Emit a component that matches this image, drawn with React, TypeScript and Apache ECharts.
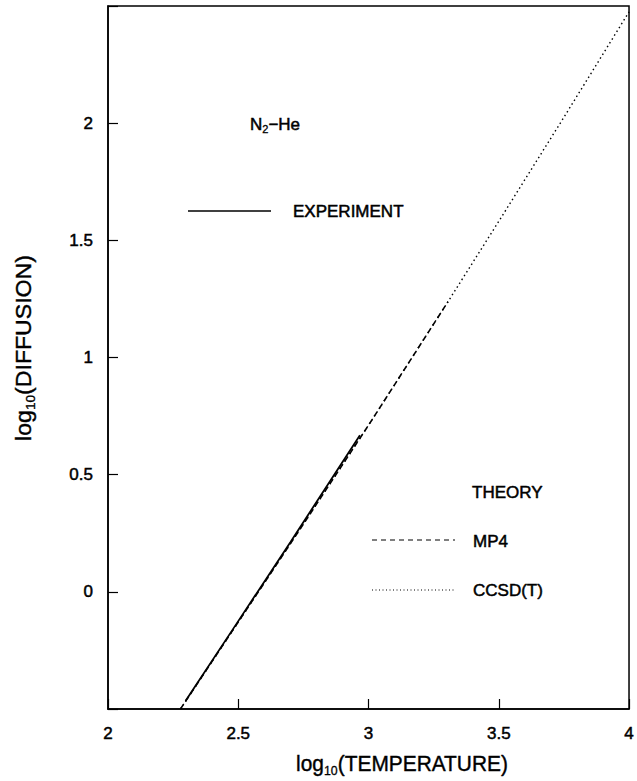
import React, { useEffect, useRef } from "react";
import * as echarts from "echarts";

// log10(T) and log10(D)
const experimentX = [2.298, 2.5, 2.7, 2.967];
const experimentY = [-0.465, -0.125, 0.212, 0.668];
const mp4X = [2.278, 2.5, 2.75, 3.0, 3.305];
const mp4Y = [-0.5, -0.129, 0.289, 0.711, 1.238];
const ccsdX = [2.278, 2.5, 2.75, 3.0, 3.305, 3.5, 3.75, 4.0];
const ccsdY = [-0.5, -0.129, 0.289, 0.711, 1.238, 1.581, 2.025, 2.475];

const xTicks = [2, 2.5, 3, 3.5, 4];
const yTicks = [0, 0.5, 1, 1.5, 2];

const pairs = (xs: number[], ys: number[]) => xs.map((x, i) => [x, ys[i]]);

const FONT = "'Liberation Sans', Arial, sans-serif";
const HEAVY = { textBorderColor: "#000", textBorderWidth: 0.5 };

export default function App() {
  const ref = useRef<HTMLDivElement>(null);
  useEffect(() => {
    if (!ref.current) return;
    const chart = echarts.init(ref.current, null, { renderer: "svg" });
    const lineBase = { type: "line", showSymbol: false, symbol: "none", clip: true };
    const titleRich = {
      a: { fontFamily: FONT, fontSize: 22, fill: "#000", lineHeight: 30, stroke: "#000", lineWidth: 0.4 },
      s: { fontFamily: FONT, fontSize: 13, fill: "#000", lineHeight: 30, padding: [13, 0, 0, 0], stroke: "#000", lineWidth: 0.3 },
    };
    const legendText = (text: string, x: number, y: number) => ({
      type: "text",
      x,
      y,
      style: {
        text,
        fontFamily: FONT,
        fontSize: 17,
        fill: "#000",
        stroke: "#000",
        lineWidth: 0.5,
        align: "left",
        verticalAlign: "middle",
      },
    });
    chart.setOption({
      animation: false,
      backgroundColor: "#fff",
      grid: {
        left: 108,
        right: 2,
        top: 6,
        bottom: 72,
        show: true,
        borderColor: "#000",
        borderWidth: 1.5,
      },
      xAxis: {
        type: "value",
        min: 2,
        max: 4,
        interval: 0.5,
        axisLine: { show: true, onZero: false, lineStyle: { color: "#000", width: 1.5 } },
        axisTick: { show: true, inside: true, length: 10, lineStyle: { color: "#000", width: 1.2 } },
        axisLabel: {
          color: "#000",
          fontFamily: FONT,
          fontSize: 17,
          margin: 16,
          ...HEAVY,
          formatter: (v: number) => (xTicks.includes(v) ? String(v) : ""),
        },
        splitLine: { show: false },
      },
      yAxis: {
        type: "value",
        min: -0.5,
        max: 2.5,
        interval: 0.5,
        axisLine: { show: true, onZero: false, lineStyle: { color: "#000", width: 1.5 } },
        axisTick: { show: true, inside: true, length: 10, lineStyle: { color: "#000", width: 1.2 } },
        axisLabel: {
          color: "#000",
          fontFamily: FONT,
          fontSize: 17,
          margin: 15,
          ...HEAVY,
          formatter: (v: number) => (yTicks.includes(v) ? String(v) : ""),
        },
        splitLine: { show: false },
      },
      series: [
        {
          ...lineBase,
          name: "EXPERIMENT",
          data: pairs(experimentX, experimentY),
          lineStyle: { color: "#000", width: 1.8, type: "solid" },
        },
        {
          ...lineBase,
          name: "MP4",
          data: pairs(mp4X, mp4Y),
          lineStyle: { color: "#000", width: 1.6, type: [5, 4] },
        },
        {
          ...lineBase,
          name: "CCSD(T)",
          data: pairs(ccsdX, ccsdY),
          lineStyle: { color: "#000", width: 1.4, type: [1.5, 3] },
        },
      ],
      graphic: [
        {
          type: "text",
          x: 250,
          y: 124,
          style: {
            text: "{a|N}{s|2}{a|−He}",
            align: "left",
            verticalAlign: "middle",
            rich: {
              a: { fontFamily: FONT, fontSize: 17, fill: "#000", lineHeight: 24, stroke: "#000", lineWidth: 0.5 },
              s: { fontFamily: FONT, fontSize: 11, fill: "#000", lineHeight: 24, padding: [10, 0, 0, 0], stroke: "#000", lineWidth: 0.3 },
            },
          },
        },
        { type: "line", shape: { x1: 188, y1: 211, x2: 271, y2: 211 }, style: { stroke: "#000", lineWidth: 1.5 } },
        legendText("EXPERIMENT", 293, 211),
        legendText("THEORY", 472, 492),
        {
          type: "line",
          shape: { x1: 372, y1: 540, x2: 455, y2: 540 },
          style: { stroke: "#000", lineWidth: 1.2, lineDash: [5, 4] },
        },
        legendText("MP4", 473, 541),
        {
          type: "line",
          shape: { x1: 372, y1: 590, x2: 455, y2: 590 },
          style: { stroke: "#000", lineWidth: 1.2, lineDash: [1, 2.5] },
        },
        legendText("CCSD(T)", 473, 590),
        {
          type: "text",
          x: 402,
          y: 764,
          scaleX: 0.95,
          style: {
            text: "{a|log}{s|10}{a|(TEMPERATURE)}",
            align: "center",
            verticalAlign: "middle",
            rich: titleRich,
          },
        },
        {
          type: "text",
          x: 24,
          y: 348,
          rotation: Math.PI / 2,
          scaleX: 1.05,
          style: {
            text: "{a|log}{s|10}{a|(DIFFUSION)}",
            align: "center",
            verticalAlign: "middle",
            rich: titleRich,
          },
        },
      ],
    });
    return () => chart.dispose();
  }, []);
  return (
    <div
      ref={ref}
      style={{ position: "absolute", left: 0, top: 0, width: 637, height: 781 }}
    />
  );
}
